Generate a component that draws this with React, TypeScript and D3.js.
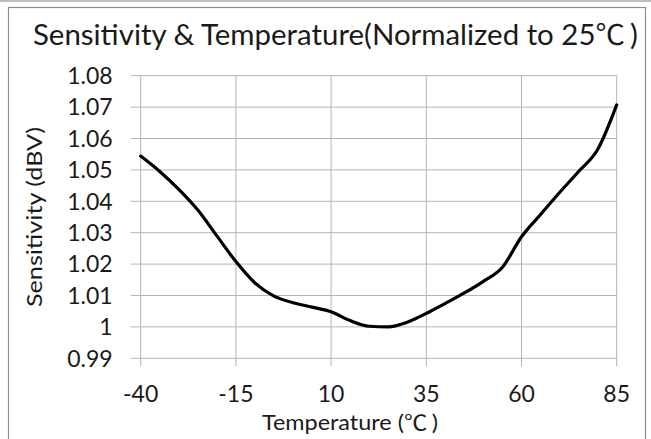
import React from 'react';
import * as d3 from 'd3';

// Temperature (°C) vs normalized sensitivity
const temps = [-40, -35, -30, -25, -20, -15, -10, -5, 0, 5, 10, 15, 20, 25, 30, 35, 40, 45, 50, 55, 60, 65, 70, 75, 80, 85];
const sens = [1.0544, 1.0495, 1.0438, 1.0372, 1.029, 1.0208, 1.014, 1.0098, 1.0077, 1.0063, 1.0048, 1.002, 1.0002, 1.0, 1.0015, 1.0043, 1.0075, 1.0108, 1.0145, 1.019, 1.0287, 1.0358, 1.0428, 1.0495, 1.0565, 1.0707];

const xTicks = [-40, -15, 10, 35, 60, 85];
const yTicks = [0.99, 1.0, 1.01, 1.02, 1.03, 1.04, 1.05, 1.06, 1.07, 1.08];

const W = 651;
const H = 439;
const FONT = "Lato, 'Noto Sans CJK JP', sans-serif";
const CJK = "'Noto Sans CJK SC', 'Noto Sans CJK JP', sans-serif";

const App: React.FC = () => {
  const x = d3.scaleLinear().domain([-40, 85]).range([140.7, 616.7]);
  const y = d3.scaleLinear().domain([0.99, 1.08]).range([358.3, 75.7]);

  const pts = temps.map((t, i) => [t, sens[i]] as [number, number]);
  const line = d3
    .line<[number, number]>()
    .x(d => x(d[0]))
    .y(d => y(d[1]))
    .curve(d3.curveMonotoneX);

  const gridColor = '#b4b4b4';
  const [x0, x1] = x.range();
  const [yb, yt] = y.range();

  return (
    <svg
      width={W}
      height={H}
      style={{ position: 'absolute', left: 0, top: 0, display: 'block', background: '#fff' }}
      fontFamily={FONT}
    >
      {/* frame */}
      <line x1={0} x2={W} y1={1} y2={1} stroke="#a8a8a8" strokeWidth={1.5} />
      <rect x={8.5} y={7.5} width={637} height={H} fill="none" stroke="#8c8c8c" strokeWidth={1.2} />

      <text x={33} y={45} fontSize={28} fill="#1a1a1a" textLength={605} lengthAdjust="spacingAndGlyphs">
        Sensitivity &amp; Temperature(Normalized to 25<tspan fontFamily={CJK}>{'\u2103'}</tspan><tspan dx={5}>)</tspan>
      </text>

      {/* horizontal grid + y ticks */}
      {yTicks.map(v => (
        <g key={'y' + v}>
          <line x1={x0 - 10} x2={x1} y1={y(v)} y2={y(v)} stroke={gridColor} strokeWidth={1} />
          <text x={112.7} y={y(v)} dy="0.36em" textAnchor="end" fontSize={23} fill="#1a1a1a">
            {String(+v.toFixed(2))}
          </text>
        </g>
      ))}

      {/* vertical grid + x ticks */}
      {xTicks.map(v => (
        <g key={'x' + v}>
          <line x1={x(v)} x2={x(v)} y1={yt} y2={yb + 8} stroke={gridColor} strokeWidth={1} />
          <text x={x(v)} y={401.5} textAnchor="middle" fontSize={23} fill="#1a1a1a">
            {v}
          </text>
        </g>
      ))}

      <path d={line(pts) || ''} fill="none" stroke="#000" strokeWidth={3.2} strokeLinejoin="round" strokeLinecap="round" />

      <text x={350} y={430} textAnchor="middle" fontSize={21} fill="#1a1a1a" textLength={176} lengthAdjust="spacingAndGlyphs">
        Temperature (<tspan fontFamily={CJK}>{'\u2103'}</tspan><tspan dx={4}>)</tspan>
      </text>
      <text
        transform={`translate(42,${(yt + yb) / 2}) rotate(-90)`}
        textAnchor="middle"
        fontSize={22}
        fill="#1a1a1a"
        textLength={180}
        lengthAdjust="spacingAndGlyphs"
      >
        Sensitivity (dBV)
      </text>
    </svg>
  );
};

export default App;
